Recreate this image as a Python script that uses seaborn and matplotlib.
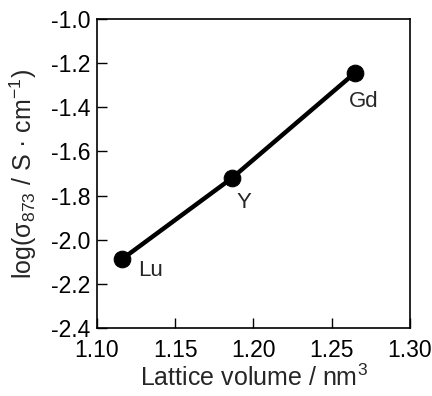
import matplotlib
matplotlib.use("Agg")
import matplotlib.pyplot as plt
import seaborn as sns
import pandas as pd

# lattice volume (nm^3) vs log conductivity at 873 K
elements = ["Lu", "Y", "Gd"]
volume = [1.116, 1.186, 1.265]
log_sigma = [-2.088, -1.722, -1.243]

# label offsets in pixels (dx, dy)
label_offsets = [(28, -11), (12, -24), (8, -29)]

sns.set_style("ticks")
plt.rcParams["font.family"] = ["Liberation Sans", "DejaVu Sans"]
plt.rcParams["mathtext.fontset"] = "custom"
plt.rcParams["mathtext.rm"] = "Liberation Sans"
plt.rcParams["mathtext.it"] = "Liberation Sans"

df = pd.DataFrame({"element": elements, "volume": volume, "log_sigma": log_sigma})

fig = plt.figure(figsize=(4.32, 3.96), dpi=100)
ax = fig.add_axes([0.2245, 0.1717, 0.7245, 0.7803])

sns.lineplot(data=df, x="volume", y="log_sigma", ax=ax, color="black",
             linewidth=3.2, marker="o", markersize=12, markeredgecolor="black",
             markerfacecolor="black")

for el, x, y, (dx, dy) in zip(elements, volume, log_sigma, label_offsets):
    ax.annotate(el, (x, y), xytext=(dx, dy), textcoords="offset pixels",
                ha="center", va="center", fontsize=16)

ax.set_xlim(1.10, 1.30)
ax.set_ylim(-2.4, -1.0)
ax.set_xticks([1.10, 1.15, 1.20, 1.25, 1.30])
ax.set_xticklabels(["1.10", "1.15", "1.20", "1.25", "1.30"])
ax.set_yticks([-2.4, -2.2, -2.0, -1.8, -1.6, -1.4, -1.2, -1.0])
ax.set_yticklabels(["-2.4", "-2.2", "-2.0", "-1.8", "-1.6", "-1.4", "-1.2", "-1.0"])
ax.tick_params(direction="in", length=7, width=1, labelsize=16.5,
               color="black", labelcolor="black")
ax.tick_params(axis="x", pad=8)
ax.tick_params(axis="y", pad=5)

ax.set_xlabel("Lattice volume / nm$^{\\mathrm{3}}$", fontsize=18, labelpad=2)
ax.set_ylabel("log(σ$_{\\mathrm{873}}$ / S · cm$^{\\mathrm{-1}}$)", fontsize=18, labelpad=8)

for s in ax.spines.values():
    s.set_linewidth(1.2)
    s.set_color("black")

fig.savefig("out.png", dpi=100)
